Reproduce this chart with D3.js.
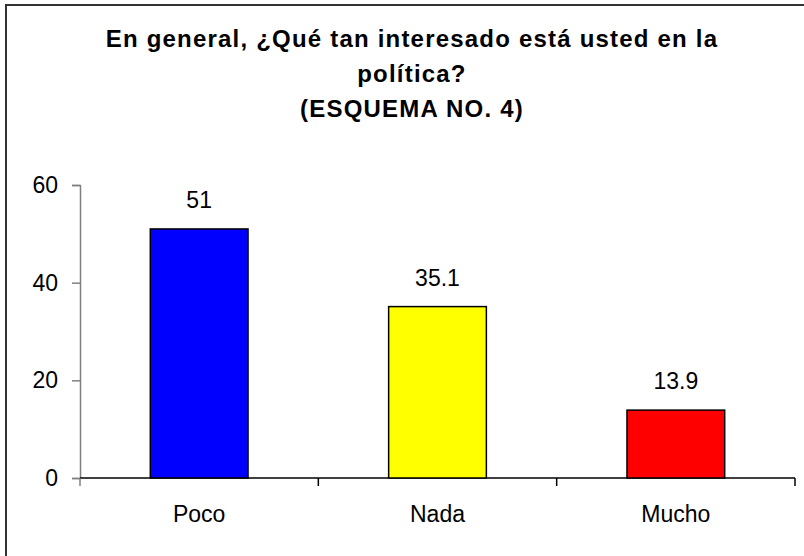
<!DOCTYPE html>
<html>
<head>
<meta charset="utf-8">
<script src="https://cdn.jsdelivr.net/npm/d3@7"></script>
<style>
  body { margin: 0; background: #fff; }
  svg { display: block; }
  text { font-family: "Liberation Sans", Arial, sans-serif; fill: #000; }
</style>
</head>
<body>
<svg id="chart" width="804" height="556"></svg>
<script>
// chart data
const categories = ['Poco', 'Nada', 'Mucho']
const values = [51, 35.1, 13.9]
const barColors = ['#0000ff', '#ffff00', '#ff0000']
const yTicks = [0, 20, 40, 60]
const titleLines = [
  'En general, ¿Qué tan interesado está usted en la',
  'política?',
  '(ESQUEMA NO. 4)'
]

const svg = d3.select('#chart')

// outer frame, runs off the right and bottom edge
svg.append('rect')
  .attr('x', 6).attr('y', 5)
  .attr('width', 830).attr('height', 570)
  .attr('fill', 'none')
  .attr('stroke', '#333')
  .attr('stroke-width', 2)

// plot area
const plot = {left: 80, right: 795, top: 185, bottom: 478}

const x = d3.scaleBand()
  .domain(categories)
  .range([plot.left, plot.right])
  .paddingInner(0.59)
  .paddingOuter(0.295)

const y = d3.scaleLinear()
  .domain([0, 60])
  .range([plot.bottom, plot.top])

// title (spaced out a bit like the original)
svg.append('g')
  .attr('class', 'title')
  .selectAll('text')
  .data(titleLines)
  .enter().append('text')
  .attr('x', 412)
  .attr('y', (d, i) => 47 + i * 35)
  .attr('text-anchor', 'middle')
  .style('font-size', '24px')
  .style('font-weight', 'bold')
  .style('letter-spacing', '1.2px')
  .text(d => d)

// y axis
const yAxis = svg.append('g')
  .attr('transform', `translate(${plot.left},0)`)
  .call(d3.axisLeft(y).tickValues(yTicks).tickSize(8).tickPadding(14))
yAxis.select('.domain').attr('stroke', '#808080').attr('stroke-width', 1.5)
yAxis.selectAll('.tick line').attr('stroke', '#808080').attr('stroke-width', 1.5)
yAxis.selectAll('.tick text')
  .style('font-size', '23px')
  .style('font-family', '"Liberation Sans", Arial, sans-serif')

// x axis: ticks sit on category boundaries
const boundaries = [plot.left].concat(categories.map(c => x(c) + x.bandwidth() / 2 + x.step() / 2))
const xAxis = svg.append('g').attr('class', 'xaxis')
xAxis.append('line')
  .attr('x1', plot.left).attr('x2', plot.right)
  .attr('y1', y(0)).attr('y2', y(0))
  .attr('stroke', '#000').attr('stroke-width', 1.5)
xAxis.selectAll('line.tick')
  .data(boundaries)
  .enter().append('line')
  .attr('class', 'tick')
  .attr('x1', d => d).attr('x2', d => d)
  .attr('y1', y(0)).attr('y2', y(0) + 8)
  .attr('stroke', (d, i) => i === 0 ? '#808080' : '#000')
  .attr('stroke-width', 1.5)
xAxis.selectAll('text')
  .data(categories)
  .enter().append('text')
  .attr('x', d => x(d) + x.bandwidth() / 2)
  .attr('y', 522)
  .attr('text-anchor', 'middle')
  .style('font-size', '23px')
  .text(d => d)

// bars
svg.append('g')
  .attr('class', 'bars')
  .selectAll('rect')
  .data(values)
  .enter().append('rect')
  .attr('x', (d, i) => x(categories[i]))
  .attr('y', d => y(d))
  .attr('width', x.bandwidth())
  .attr('height', d => y(0) - y(d))
  .attr('fill', (d, i) => barColors[i])
  .attr('stroke', '#000')
  .attr('stroke-width', 1.5)

// value labels
svg.append('g')
  .attr('class', 'labels')
  .selectAll('text')
  .data(values)
  .enter().append('text')
  .attr('x', (d, i) => x(categories[i]) + x.bandwidth() / 2)
  .attr('y', d => y(d) - 21)
  .attr('text-anchor', 'middle')
  .style('font-size', '23px')
  .text(d => d)
</script>
</body>
</html>
